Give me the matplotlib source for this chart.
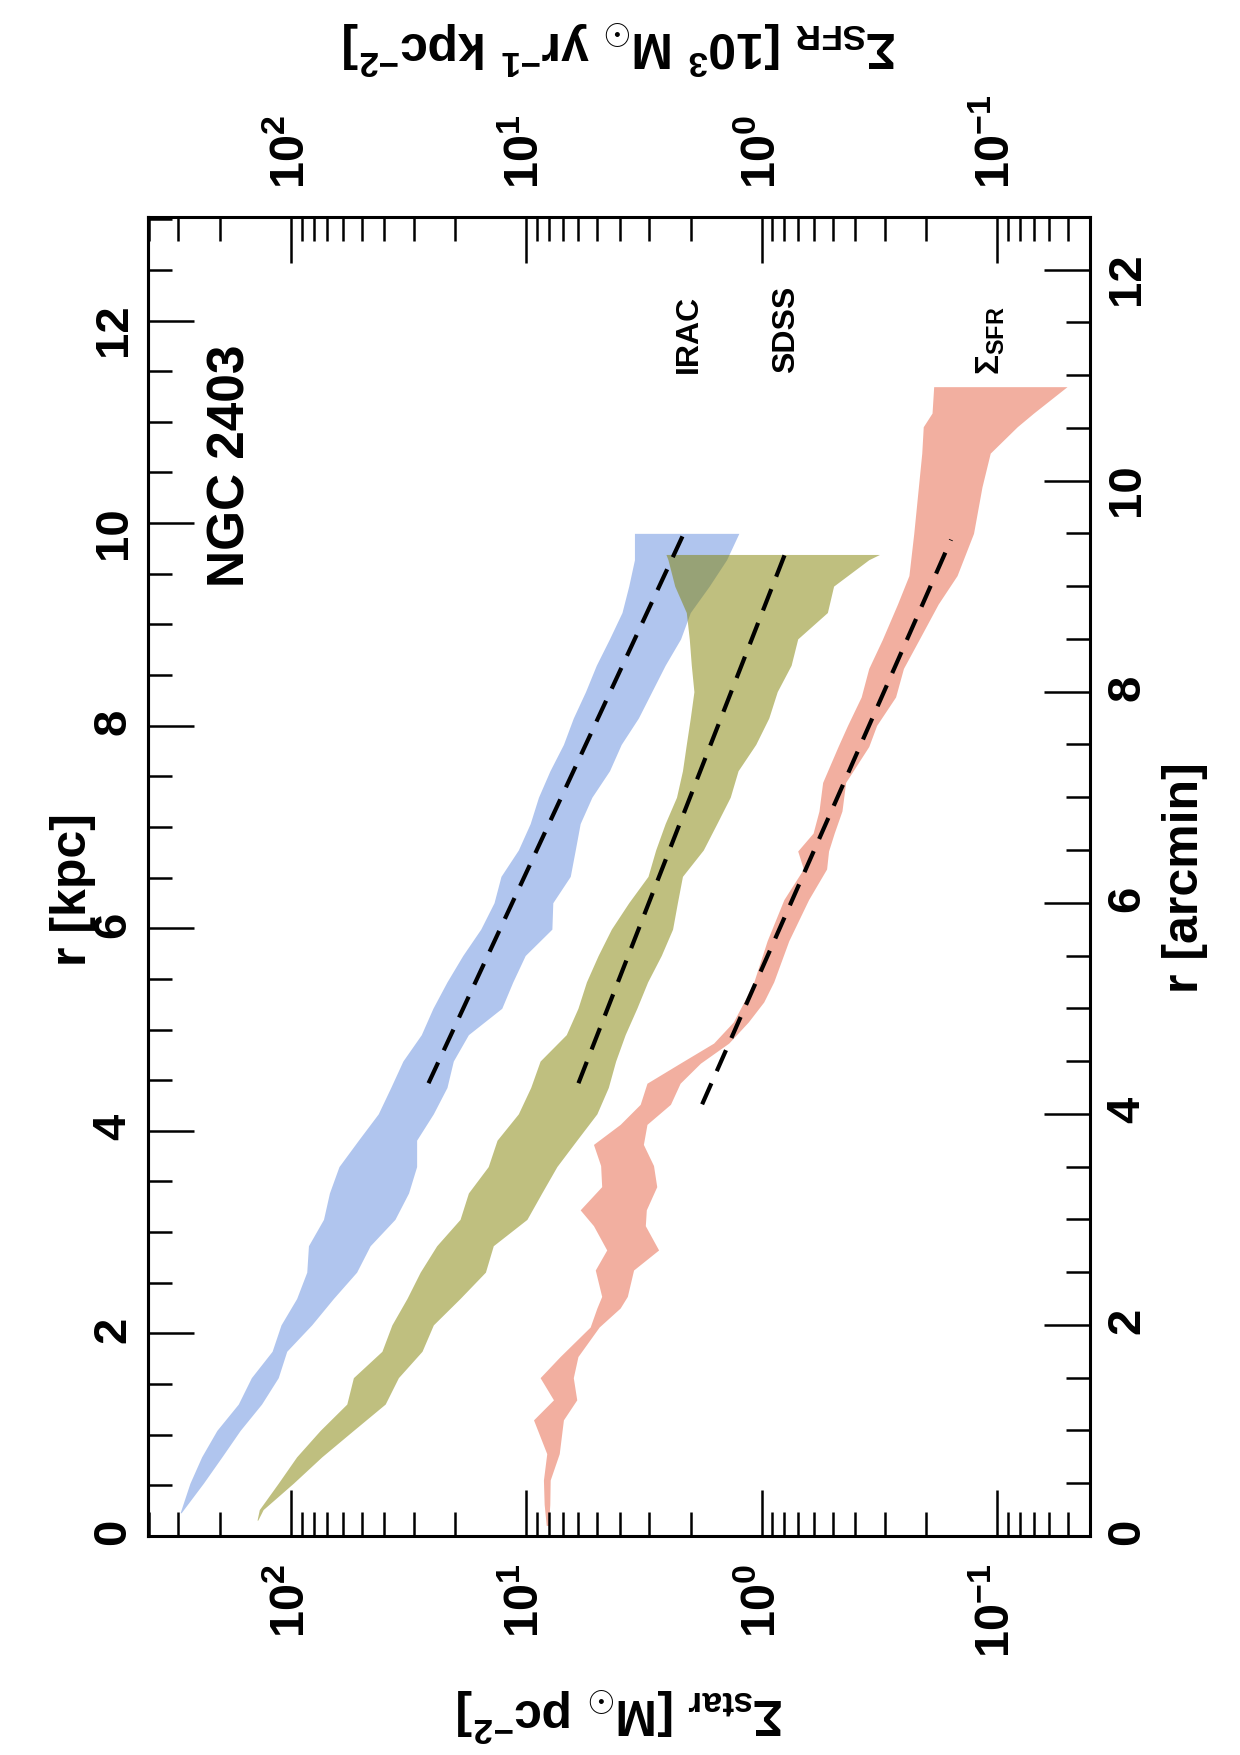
"""NGC 2403: stellar and SFR surface density profiles (figure drawn rotated by 90 deg)."""

import matplotlib

matplotlib.use("Agg")

import matplotlib.pyplot as plt
from matplotlib.ticker import FuncFormatter, LogLocator, MultipleLocator, NullFormatter
import numpy as np

plt.rcParams.update({
    "font.family": ["Liberation Sans", "DejaVu Sans"],
    "font.weight": "bold",
    "mathtext.fontset": "custom",
    "mathtext.rm": "Liberation Sans",
    "mathtext.it": "Liberation Sans",
    "mathtext.bf": "Liberation Sans:bold",
    "mathtext.sf": "Liberation Sans",
})

# radius in arcmin (vertical axis after rotation)
KPC_PER_ARCMIN = 1.042

# IRAC stellar surface density band [M_sun pc^-2]
r_irac = [0.22, 0.5, 0.75, 1.0, 1.25, 1.5, 1.75, 2.0, 2.25, 2.5, 2.75, 3.0, 3.25, 3.5, 3.75,
          4.0, 4.25, 4.5, 4.75, 5.0, 5.25, 5.5, 5.75, 6.0, 6.25, 6.5, 6.75, 7.0, 7.25, 7.5,
          7.75, 8.0, 8.25, 8.5, 8.75, 9.0, 9.25, 9.5]
irac_hi = [295, 268, 239, 206, 167, 147, 120, 110, 94.4, 85.5, 84.1, 72.6, 68.5, 62.4, 51.6,
           42.5, 37.6, 33.4, 27.9, 24.9, 21.7, 18.6, 15.6, 13.7, 12.8, 10.8, 9.62, 8.87, 7.93, 6.95,
           6.31, 5.60, 5.04, 4.43, 3.92, 3.67, 3.47, 3.47]
irac_lo = [292, 235, 196, 164, 133, 113, 104, 81.5, 65.9, 52.5, 46.0, 36.1, 31.6, 29.2, 29.2,
           24.8, 21.7, 20.4, 17.6, 12.7, 11.4, 10.1, 7.78, 7.71, 6.50, 6.19, 5.90, 5.26, 4.43, 3.95,
           3.34, 2.93, 2.57, 2.21, 2.01, 1.67, 1.41, 1.25]

# SDSS stellar surface density band
r_sdss = [0.15, 0.25, 0.5, 0.75, 1.0, 1.25, 1.5, 1.75, 2.0, 2.25, 2.5, 2.75, 3.0, 3.25, 3.5,
          3.75, 4.0, 4.25, 4.5, 4.75, 5.0, 5.25, 5.5, 5.75, 6.0, 6.25, 6.5, 6.75, 7.0, 7.25,
          7.5, 7.75, 8.0, 8.25, 8.5, 8.75, 9.0, 9.25, 9.3]
sdss_hi = [139, 136, 113, 94.4, 75.0, 57.8, 54.2, 41.0, 37.2, 32.1, 28.2, 24.0, 19.1, 17.6, 14.5,
           13.3, 10.8, 9.57, 8.73, 6.76, 6.03, 5.55, 4.95, 4.35, 3.67, 3.04, 2.82, 2.57, 2.30, 2.17,
           2.09, 2.01, 1.94, 1.99, 2.03, 2.09, 2.34, 2.50, 2.55]
sdss_lo = [138, 131, 97.5, 73.8, 54.2, 39.7, 34.9, 27.7, 24.8, 19.1, 14.9, 13.8, 9.93, 8.59, 7.41,
           6.10, 5.01, 4.48, 4.17, 3.80, 3.39, 3.05, 2.67, 2.39, 2.28, 2.17, 1.77, 1.55, 1.36, 1.26,
           1.06, 0.933, 0.859, 0.750, 0.703, 0.526, 0.495, 0.351, 0.316]

# SFR surface density band [10^3 M_sun yr^-1 kpc^-2]
r_sfr = [0.10, 0.30, 0.53, 0.78, 1.10, 1.29, 1.50, 1.70, 1.98, 2.16, 2.27, 2.52, 2.71, 2.94,
         3.09, 3.31, 3.51, 3.71, 3.90, 4.09, 4.29, 4.48, 4.67, 4.87, 5.06, 5.25, 5.64, 6.03,
         6.32, 6.49, 6.66, 6.87, 7.14, 7.48, 7.68, 7.95, 8.22, 8.49, 8.83, 9.10, 9.50, 9.94,
         10.26, 10.51, 10.64, 10.89]
sfr_hi = [8.22, 8.39, 8.45, 8.18, 9.31, 7.66, 8.73, 7.18, 5.35, 5.01, 4.78, 5.09, 4.55, 5.18,
          5.90, 4.78, 4.83, 5.18, 3.99, 3.28, 3.07, 2.22, 1.60, 1.32, 1.19, 1.08, 0.948, 0.805,
          0.665, 0.703, 0.605, 0.571, 0.551, 0.474, 0.432, 0.378, 0.351, 0.308, 0.265, 0.237, 0.226, 0.216,
          0.209, 0.206, 0.189, 0.186]
sfr_lo = [8.04, 7.94, 7.91, 7.24, 6.95, 6.10, 6.31, 6.03, 4.90, 3.99, 3.72, 3.50, 2.74, 3.12,
          3.09, 2.79, 2.88, 3.18, 3.07, 2.44, 2.22, 1.82, 1.38, 1.14, 0.980, 0.889, 0.767, 0.632,
          0.530, 0.520, 0.492, 0.456, 0.440, 0.351, 0.325, 0.270, 0.250, 0.215, 0.178, 0.148, 0.126, 0.116,
          0.107, 0.0822, 0.0700, 0.0505]

# exponential disc fits (end points)
fit_irac_r = [4.29, 9.53]
fit_irac_sigma = [26.0, 2.11]
fit_sdss_r = [4.29, 9.32]
fit_sdss_sigma = [6.0, 0.791]
fit_sfr_r = [4.09, 9.44]
fit_sfr_sigma = [1.79, 0.157]


def _log_label(value: float, pos: int) -> str:
    """Tick label 10^n in bold."""

    return r"$\mathbf{10^{%d}}$" % int(round(np.log10(value)))


fig = plt.figure(figsize=(12.4, 17.55), dpi=100)
ax = fig.add_axes([0.1194, 0.1248, 0.7597, 0.7517])

ax.fill_betweenx(r_irac, irac_lo, irac_hi, color="#B0C5EE", linewidth=0)
ax.fill_betweenx(r_sdss, sdss_lo, sdss_hi, color="olive", alpha=0.5, linewidth=0)
ax.fill_betweenx(r_sfr, sfr_lo, sfr_hi, color="#F2AFA0", linewidth=0)
for fit_r, fit_sigma in ((fit_irac_r, fit_irac_sigma), (fit_sdss_r, fit_sdss_sigma), (fit_sfr_r, fit_sfr_sigma)):
    ax.plot(fit_sigma, fit_r, color="black", linewidth=3.0, dashes=(5.5, 3.2))

# horizontal axis: surface density (log, decreasing to the right)
ax.set_xscale("log")
ax.set_xlim(403.6, 0.0403)
ax.xaxis.set_major_locator(LogLocator(base=10, numticks=10))
ax.xaxis.set_minor_locator(LogLocator(base=10, subs=np.arange(2, 10), numticks=20))
ax.xaxis.set_major_formatter(FuncFormatter(_log_label))
ax.xaxis.set_minor_formatter(NullFormatter())
ax.tick_params(axis="x", which="both", direction="in", top=True, bottom=True,
               labeltop=True, labelbottom=True, labelrotation=90, labelsize=35, pad=20)

# vertical axis: radius in arcmin on the right
ax.set_ylim(0, 12.5)
ax.yaxis.tick_right()
ax.yaxis.set_major_locator(MultipleLocator(2))
ax.yaxis.set_minor_locator(MultipleLocator(0.5))
ax.tick_params(axis="y", which="both", direction="in", left=False, right=True,
               labelleft=False, labelright=True, labelrotation=90, labelsize=34, pad=11)
ax.tick_params(which="major", length=33, width=1.8)
ax.tick_params(which="minor", length=17, width=1.8)

# radius in kpc on the left
sec = ax.secondary_yaxis("left", functions=(lambda r: r * KPC_PER_ARCMIN, lambda k: k / KPC_PER_ARCMIN))
sec.yaxis.set_major_locator(MultipleLocator(2))
sec.yaxis.set_minor_locator(MultipleLocator(0.5))
sec.tick_params(which="both", direction="in", labelrotation=90, labelsize=34, pad=9)
sec.tick_params(which="major", length=33, width=1.8)
sec.tick_params(which="minor", length=17, width=1.8)
sec.spines["left"].set_linewidth(2.2)
for spine in ax.spines.values():
    spine.set_linewidth(2.2)

ax.text(180, 10.14, "NGC 2403", rotation=90, ha="center", va="center", fontsize=37)
ax.text(2.03, 11.02, "IRAC", rotation=90, ha="center", va="bottom", fontsize=23)
ax.text(0.787, 11.02, "SDSS", rotation=90, ha="center", va="bottom", fontsize=23)
ax.text(0.106, 11.0, r"$\Sigma_{\mathbf{SFR}}$", rotation=90, ha="center", va="bottom", fontsize=24)

fig.text(0.5, 1 - 48 / 1755, r"$\Sigma_{\mathbf{SFR}}$ [10$^{\mathbf{3}}$ M$_{\odot}$ yr$^{\mathbf{-1}}$ kpc$^{\mathbf{-2}}$]",
         rotation=180, ha="center", va="center", fontsize=36)
fig.text(0.5, 1 - 1715 / 1755, r"$\Sigma_{\mathbf{star}}$ [M$_{\odot}$ pc$^{\mathbf{-2}}$]",
         rotation=180, ha="center", va="center", fontsize=36)
fig.text(73 / 1240, 1 - 890 / 1755, "r [kpc]", rotation=90, ha="center", va="center", fontsize=36)
fig.text(1185 / 1240, 1 - 878 / 1755, "r [arcmin]", rotation=90, ha="center", va="center", fontsize=36)

fig.savefig("out.png", dpi=100)
plt.close(fig)
